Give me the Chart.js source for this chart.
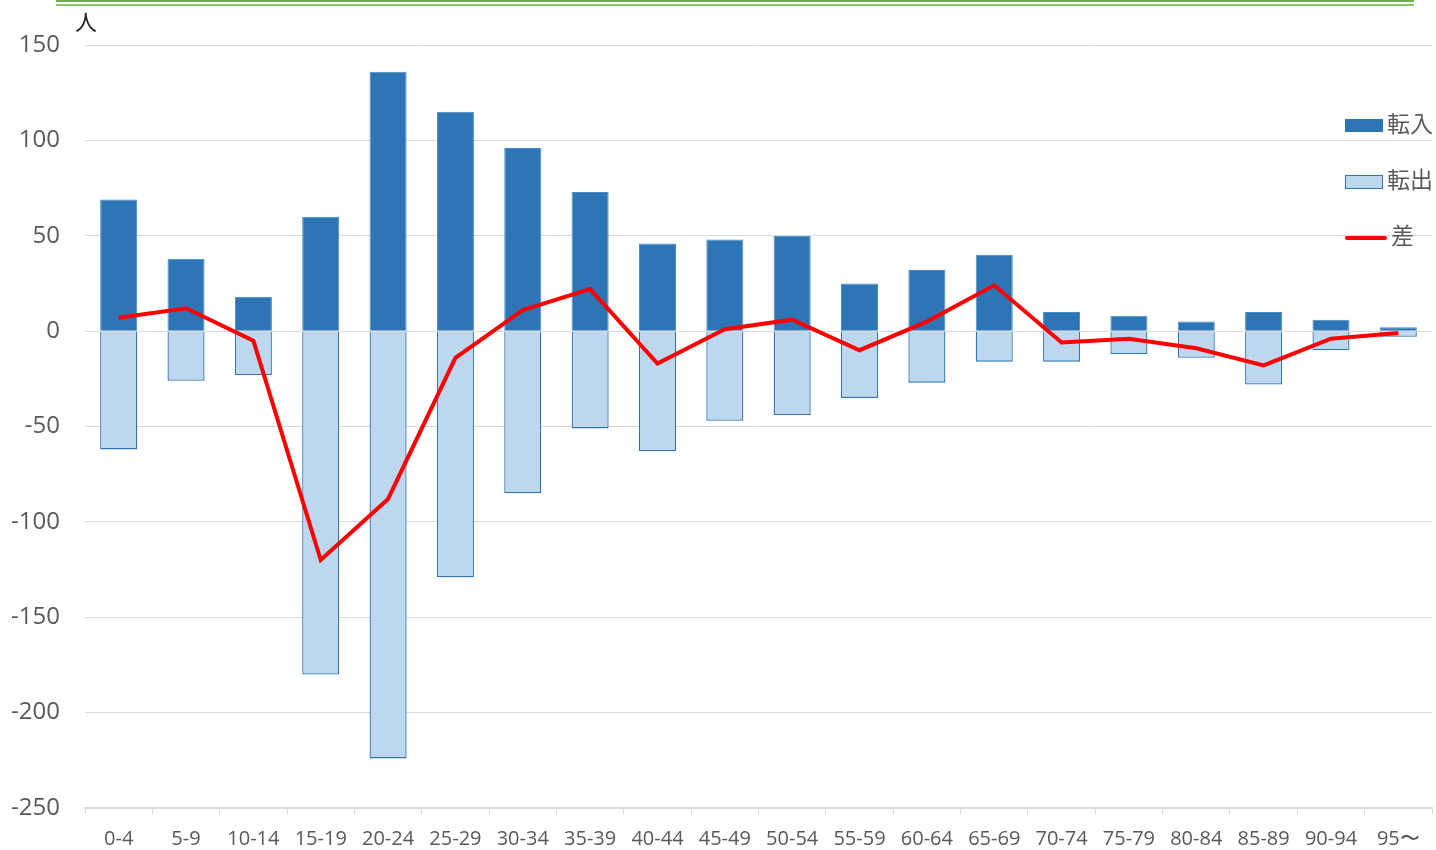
<!DOCTYPE html>
<html>
<head>
<meta charset="utf-8">
<script src="https://cdn.jsdelivr.net/npm/chart.js"></script>
<style>
    body { margin: 0; background: #fff; font-family: "Noto Sans CJK JP", "Open Sans", sans-serif; }
    #wrap { position: relative; width: 1436px; height: 850px; }
    .green1 { position: absolute; left: 56px; width: 1358px; top: 0px; height: 2px; background: #70ad47; }
    .green2 { position: absolute; left: 56px; width: 1358px; top: 4px; height: 2px; background: #8fc866; }
    #unit { position: absolute; left: 75px; top: 4px; font-size: 22px; color: #222; }
    .leg { position: absolute; left: 1345px; font-size: 23px; color: #595959; line-height: 26px; }
    .leg span { display: inline-block; vertical-align: middle; margin-right: 4px; }
</style>
</head>
<body>
<div id="wrap">
    <canvas id="migration" width="1436" height="850"></canvas>
    <div class="green1"></div>
    <div class="green2"></div>
    <div id="unit">人</div>
    <div class="leg" style="top:109px"><span style="width:38px;height:13px;background:#2e75b6"></span>転入</div>
    <div class="leg" style="top:165px"><span style="width:36px;height:12px;background:#bdd7ee;border:1px solid #2e75b6"></span>転出</div>
    <div class="leg" style="top:221px"><span style="width:42px;height:4px;background:#ff0000;border-radius:2px"></span>差</div>
</div>
<script>
    var labels = ["0-4", "5-9", "10-14", "15-19", "20-24", "25-29", "30-34", "35-39", "40-44", "45-49",
        "50-54", "55-59", "60-64", "65-69", "70-74", "75-79", "80-84", "85-89", "90-94", "95\u301c"]
    var inflow = [69, 38, 18, 60, 136, 115, 96, 73, 46, 48, 50, 25, 32, 40, 10, 8, 5, 10, 6, 2]
    var outflow = [-62, -26, -23, -180, -224, -129, -85, -51, -63, -47, -44, -35, -27, -16, -16, -12, -14, -28, -10, -3]
    var diff = [7, 12, -5, -120, -88, -14, 11, 22, -17, 1, 6, -10, 5, 24, -6, -4, -9, -18, -4, -1]
    var yTicks = [150, 100, 50, 0, -50, -100, -150, -200, -250]

    var ctx = document.getElementById("migration").getContext("2d")
    var myChart = new Chart(ctx, {
        type: "bar",
        data: {
            labels: labels,
            datasets: [{
                type: "line",
                label: "差",
                data: diff,
                borderColor: "#ff0000",
                borderWidth: 4,
                pointRadius: 0,
                tension: 0,
                stack: "line",
                order: 0
            },
            {
                label: "転入",
                data: inflow,
                backgroundColor: "#2e75b6",
                borderColor: "#4a88c2",
                borderWidth: 1,
                stack: "bars",
                order: 1
            },
            {
                label: "転出",
                data: outflow,
                backgroundColor: "#bdd7ee",
                borderColor: "#2e75b6",
                borderWidth: 1.3,
                stack: "bars",
                order: 1
            }
            ]
        },
        options: {
            responsive: false,
            animation: false,
            layout: { padding: { top: 45, right: 4, left: 0, bottom: 0 } },
            plugins: { legend: { display: false }, tooltip: { enabled: false } },
            datasets: { bar: { barPercentage: 0.55, categoryPercentage: 1 } },
            scales: {
                x: {
                    stacked: true,
                    grid: { offset: true, drawOnChartArea: false, drawTicks: true, tickLength: 6, color: "#d9d9d9" },
                    border: { color: "#d9d9d9", width: 2 },
                    ticks: { color: "#595959", font: { size: 20, family: "Open Sans" }, padding: 13, maxRotation: 0, autoSkip: false },
                    afterFit: function (scale) { scale.height = 42 }
                },
                y: {
                    stacked: true,
                    min: -250,
                    max: 150,
                    afterBuildTicks: function (scale) {
                        scale.ticks = yTicks.map(function (v) { return { value: v } })
                    },
                    grid: { color: "#d9d9d9", lineWidth: 1, drawTicks: false },
                    border: { display: false },
                    ticks: { color: "#595959", font: { size: 24, family: "Open Sans" }, padding: 25 },
                    afterFit: function (scale) { scale.width = 85 }
                }
            }
        }
    })
</script>
</body>
</html>
